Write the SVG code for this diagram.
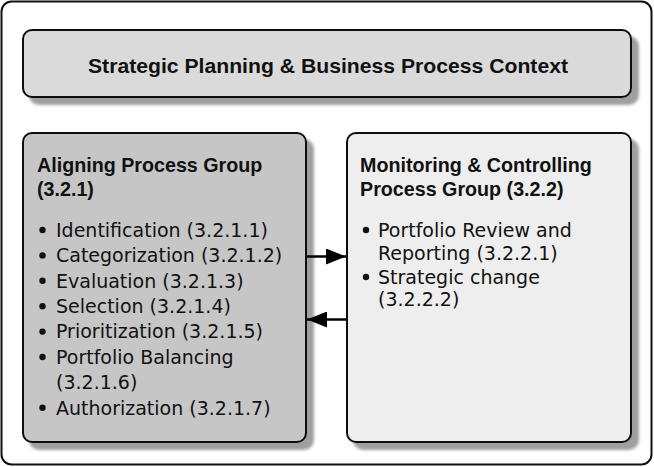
<svg xmlns="http://www.w3.org/2000/svg" width="654" height="467" viewBox="0 0 654 467">
  <defs>
    <filter id="shadow" x="-10%" y="-10%" width="125%" height="125%">
      <feGaussianBlur in="SourceAlpha" stdDeviation="1.5" result="b"/>
      <feOffset in="b" dx="7" dy="7" result="o"/>
      <feComponentTransfer in="o" result="s">
        <feFuncA type="linear" slope="0.38"/>
      </feComponentTransfer>
      <feMerge>
        <feMergeNode in="s"/>
        <feMergeNode in="SourceGraphic"/>
      </feMerge>
    </filter>
    <marker id="arrow" viewBox="0 0 20 16" refX="20" refY="8" markerWidth="20" markerHeight="16" markerUnits="userSpaceOnUse" orient="auto">
      <path d="M0,0 L20,8 L0,16 Z" fill="#000"/>
    </marker>
  </defs>
  <style>
    .box { stroke: #111; stroke-width: 2; }
    .head { font-family: "Liberation Sans", Arial, sans-serif; font-weight: bold; font-size: 19.7px; fill: #111; }
    .item { font-family: "DejaVu Sans", sans-serif; font-size: 19px; fill: #111; }
    .conn { stroke: #000; stroke-width: 2.5; fill: none; }
  </style>

  <rect id="frame" x="1.5" y="1.5" width="650" height="463" rx="10" fill="#fff" stroke="#111" stroke-width="2"/>

  <g id="context">
    <rect class="box" x="23" y="30" width="608" height="67" rx="9" fill="#dadada" filter="url(#shadow)"/>
    <text class="head" x="328" y="72.5" text-anchor="middle" textLength="480" lengthAdjust="spacingAndGlyphs">Strategic Planning &amp; Business Process Context</text>
  </g>

  <g id="aligning">
    <rect class="box" x="23" y="133" width="283" height="309" rx="9" fill="#c6c6c6" filter="url(#shadow)"/>
    <text class="head" x="37" y="171.5">Aligning Process Group</text>
    <text class="head" x="37" y="196">(3.2.1)</text>
    <g fill="#111">
      <circle cx="42.5" cy="230" r="3.2"/>
      <circle cx="42.5" cy="255.4" r="3.2"/>
      <circle cx="42.5" cy="280.8" r="3.2"/>
      <circle cx="42.5" cy="306.2" r="3.2"/>
      <circle cx="42.5" cy="331.6" r="3.2"/>
      <circle cx="42.5" cy="357" r="3.2"/>
      <circle cx="42.5" cy="407.8" r="3.2"/>
    </g>
    <text class="item" x="56" y="236.7">Identification (3.2.1.1)</text>
    <text class="item" x="56" y="262.1">Categorization (3.2.1.2)</text>
    <text class="item" x="56" y="287.5">Evaluation (3.2.1.3)</text>
    <text class="item" x="56" y="312.9">Selection (3.2.1.4)</text>
    <text class="item" x="56" y="338.3">Prioritization (3.2.1.5)</text>
    <text class="item" x="56" y="363.7">Portfolio Balancing</text>
    <text class="item" x="56" y="389.1">(3.2.1.6)</text>
    <text class="item" x="56" y="414.5">Authorization (3.2.1.7)</text>
  </g>

  <g id="monitoring">
    <rect class="box" x="347" y="133" width="284" height="309" rx="9" fill="#eeeeee" filter="url(#shadow)"/>
    <text class="head" x="360" y="172">Monitoring &amp; Controlling</text>
    <text class="head" x="360" y="196">Process Group (3.2.2)</text>
    <g fill="#111">
      <circle cx="366" cy="230" r="3.2"/>
      <circle cx="366" cy="277" r="3.2"/>
    </g>
    <text class="item" x="378" y="236.7">Portfolio Review and</text>
    <text class="item" x="378" y="259.5">Reporting (3.2.2.1)</text>
    <text class="item" x="378" y="283.5">Strategic change</text>
    <text class="item" x="378" y="306">(3.2.2.2)</text>
  </g>

  <g id="connectors">
    <line class="conn" x1="307" y1="256.5" x2="346" y2="256.5" marker-end="url(#arrow)"/>
    <line class="conn" x1="346" y1="319.5" x2="307" y2="319.5" marker-end="url(#arrow)"/>
  </g>
</svg>
